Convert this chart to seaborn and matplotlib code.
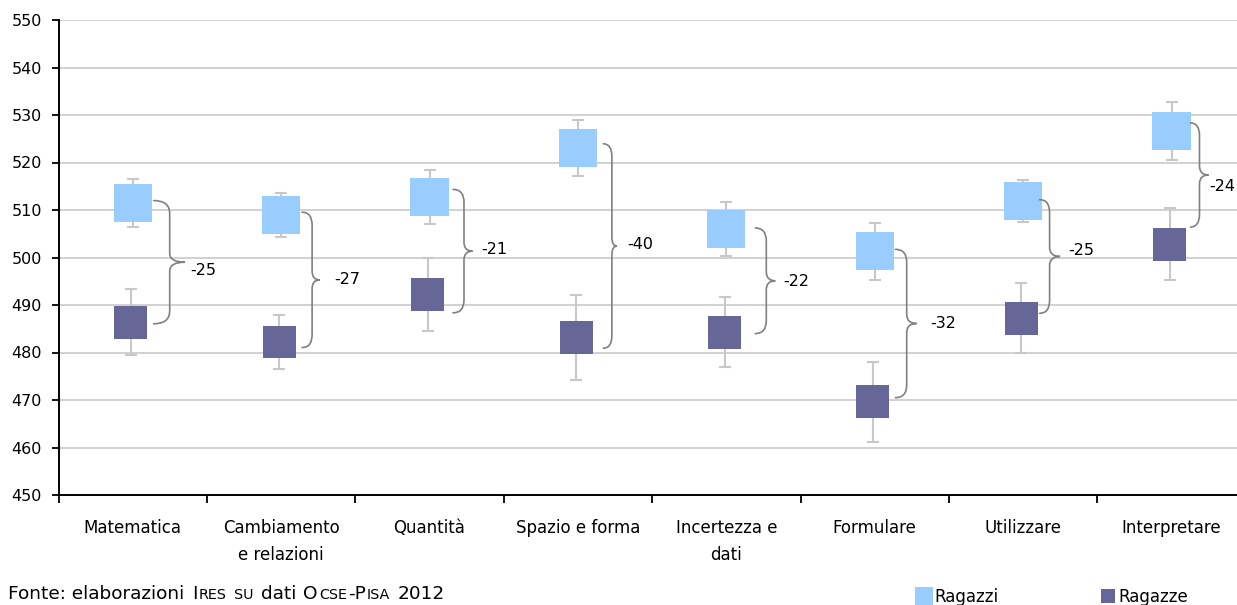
import matplotlib
matplotlib.use("Agg")
import matplotlib.pyplot as plt
from matplotlib.path import Path
from matplotlib.patches import PathPatch
from matplotlib.lines import Line2D
import numpy as np
import pandas as pd
import seaborn as sns

# ---- data -------------------------------------------------------------
categories = ["Matematica", "Cambiamento\ne relazioni", "Quantità", "Spazio e forma",
              "Incertezza e\ndati", "Formulare", "Utilizzare", "Interpretare"]
ragazzi = [511.5, 508.9, 512.8, 523.1, 506.0, 501.3, 511.9, 526.6]
ragazzi_err = [5.1, 4.6, 5.7, 5.9, 5.6, 6.0, 4.4, 6.1]
ragazze = [486.4, 482.2, 492.2, 483.2, 484.3, 469.6, 487.2, 502.8]
ragazze_err = [7.0, 5.6, 7.7, 8.9, 7.4, 8.4, 7.4, 7.6]
series_names = ["Ragazzi", "Ragazze"]
y_ticks = [450, 460, 470, 480, 490, 500, 510, 520, 530, 540, 550]
source_parts = [("Fonte: elaborazioni", 13.3, 0), ("I", 13.3, 1), ("RES", 10.3, 0), ("SU", 10.3, 1),
                ("dati", 13.3, 1), ("O", 13.3, 1), ("CSE", 10.3, 0), ("-P", 13.3, 0),
                ("ISA", 10.3, 0), ("2012", 13.3, 1)]

# ---- hand placement of the braces (pixels relative to each marker) -----
brace_start_dx = [21, 21, 23.5, 25.5, 29, 20.7, 16.5, 19]
brace_stem_dx = [37, 31, 34.5, 34, 40, 32, 26.5, 28]
brace_tip_dx = [52, 38.5, 43, 39, 49, 42, 37, 37]
label_dx = [58, 53, 51.5, 49, 56.5, 55.7, 45, 38]
label_dy = [8, 0, -1.7, -1.7, 0.7, 0, -6, 11.6]
brace_top_dy = [-2.3, -3, -7.3, -4, -1, -2, -1.3, -8.3]
brace_bot_dy = [1.7, 5.5, 18.3, 11, 1.5, -4.2, -5, -17.1]

# ---- style ------------------------------------------------------------
LIGHT = "#99CCFF"
DARK = "#666699"
GRID = "#C9C9C9"
ERR = "#C8C8C8"
BRACE = "#808080"

sns.set_theme(style="white")
plt.rcParams["font.family"] = ["DejaVu Sans"]
plt.rcParams["text.color"] = "black"
plt.rcParams["xtick.color"] = "black"
plt.rcParams["ytick.color"] = "black"

W, H = 1237, 605
fig = plt.figure(figsize=(W / 100, H / 100), dpi=100)
ax_left, ax_right, ax_top, ax_bottom = 58.5, 1245.7, 20, 495
ax = fig.add_axes([ax_left / W, (H - ax_bottom) / H,
                   (ax_right - ax_left) / W, (ax_bottom - ax_top) / H])

n = len(categories)
pos = np.arange(n)
df = pd.DataFrame({
    "pos": np.concatenate([pos, pos - 0.012]),
    "score": ragazzi + ragazze,
    "gruppo": [series_names[0]] * n + [series_names[1]] * n,
})

ax.set_xlim(-0.5, n - 0.5)
ax.set_ylim(y_ticks[0], y_ticks[-1])

# confidence whiskers
ax.errorbar(pos, ragazzi, yerr=ragazzi_err, fmt="none", ecolor=ERR,
            elinewidth=1.5, capsize=4.3, capthick=1.5, zorder=2)
ax.errorbar(pos - 0.012, ragazze, yerr=ragazze_err, fmt="none", ecolor=ERR,
            elinewidth=1.5, capsize=4.3, capthick=1.5, zorder=2)

# square markers for both groups
sns.scatterplot(data=df, x="pos", y="score", hue="gruppo", size="gruppo",
                palette={series_names[0]: LIGHT, series_names[1]: DARK},
                sizes={series_names[0]: 750, series_names[1]: 560},
                marker="s", linewidth=0, legend=False, zorder=3, ax=ax)

# curly braces with the gap between the two groups
px_per_x = (ax_right - ax_left) / n
px_per_y = (ax_bottom - ax_top) / (y_ticks[-1] - y_ticks[0])
for i in range(n):
    yt = ragazzi[i] - brace_top_dy[i] / px_per_y
    yb = ragazze[i] - brace_bot_dy[i] / px_per_y
    ym = (yt + yb) / 2
    x0 = i + brace_start_dx[i] / px_per_x
    xv = i + brace_stem_dx[i] / px_per_x
    xt = i + brace_tip_dx[i] / px_per_x
    r1 = 13 / px_per_y
    r2 = 9 / px_per_y
    verts = [(x0, yt), (xv, yt), (xv, yt - r1),
             (xv, ym + r2), (xv, ym), (xt, ym),
             (xv, ym), (xv, ym - r2),
             (xv, yb + r1), (xv, yb), (x0, yb)]
    codes = [Path.MOVETO, Path.CURVE3, Path.CURVE3,
             Path.LINETO, Path.CURVE3, Path.CURVE3,
             Path.CURVE3, Path.CURVE3,
             Path.LINETO, Path.CURVE3, Path.CURVE3]
    ax.add_patch(PathPatch(Path(verts, codes), fill=False, edgecolor=BRACE,
                           lw=1.2, zorder=4, capstyle="round"))
    gap = round(ragazze[i] - ragazzi[i])
    ax.text(i + label_dx[i] / px_per_x, ym - label_dy[i] / px_per_y, f"{gap}",
            ha="left", va="center", fontsize=11.5, color="black", zorder=5)

# axes decoration
ax.set_yticks(y_ticks)
ax.set_yticklabels([str(v) for v in y_ticks])
ax.yaxis.grid(True, color=GRID, lw=1.2)
ax.set_axisbelow(True)
ax.set_xticks(np.arange(-0.5, n, 1.0))
ax.set_xticklabels([])
ax.set_xticks(pos, minor=True)
ax.set_xticklabels(categories, minor=True, fontsize=12, linespacing=1.65)
ax.tick_params(axis="x", which="major", direction="out", length=5.8, width=1.3,
               color="black", bottom=True)
ax.tick_params(axis="x", which="minor", length=0, pad=17)
ax.tick_params(axis="y", direction="out", length=5, width=1.3, color="black",
               left=True, labelsize=11.5, pad=7)
ax.set_xlabel("")
ax.set_ylabel("")
for side in ("top", "right"):
    ax.spines[side].set_visible(False)
for side in ("left", "bottom"):
    ax.spines[side].set_color("black")
    ax.spines[side].set_linewidth(1.4)

# legend
handles = [Line2D([], [], marker="s", ls="", ms=13.5, color=LIGHT, mew=0),
           Line2D([], [], marker="s", ls="", ms=9.4, color=DARK, mew=0)]
fig.legend(handles, series_names, loc="center left", ncol=2, frameon=False,
           fontsize=12, handlelength=1.0, handletextpad=0.1, columnspacing=6.1,
           borderpad=0, borderaxespad=0,
           bbox_to_anchor=(916.0 / W, (H - 596.5) / H))

# source note with small capitals
renderer = fig.canvas.get_renderer()
x = 8.0
space_px = 6.5
for txt, fs, sp in source_parts:
    x += sp * space_px
    t = fig.text(x / W, (H - 599) / H, txt, fontsize=fs, va="baseline", ha="left")
    x += t.get_window_extent(renderer).width + 1

fig.savefig("out.png", dpi=100)
